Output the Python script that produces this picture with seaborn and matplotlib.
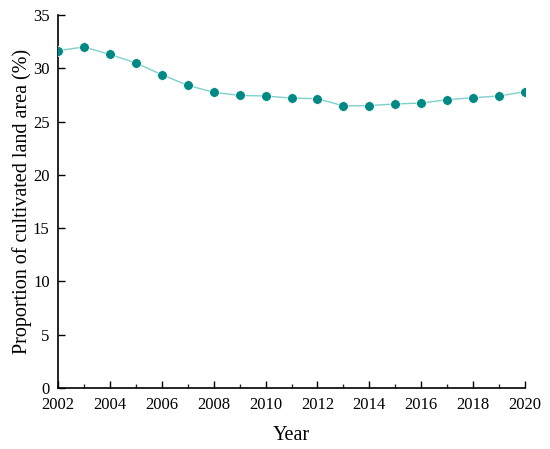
import matplotlib
matplotlib.use("Agg")
import matplotlib.pyplot as plt
import seaborn as sns
import pandas as pd
from matplotlib.ticker import MultipleLocator

years = [2002, 2003, 2004, 2005, 2006, 2007, 2008, 2009, 2010, 2011,
         2012, 2013, 2014, 2015, 2016, 2017, 2018, 2019, 2020]
proportion = [31.65, 32.0, 31.3, 30.5, 29.4, 28.4, 27.75, 27.45, 27.4, 27.2,
              27.15, 26.47, 26.5, 26.65, 26.74, 27.05, 27.24, 27.4, 27.8]

sns.set_theme(style="ticks")
plt.rcParams['font.family'] = ['Liberation Serif', 'DejaVu Serif']

df = pd.DataFrame({"Year": years, "Proportion": proportion})

fig = plt.figure(figsize=(5.5, 4.49), dpi=100)
ax = fig.add_axes([0.1055, 0.1359, 0.849, 0.8307])

sns.lineplot(data=df, x="Year", y="Proportion", ax=ax, color="#7fcfcb",
             linewidth=1.0, zorder=2)
ax.plot(df["Year"], df["Proportion"], linestyle="none", marker="o",
        markersize=7.0, markerfacecolor="#008884", markeredgecolor="white",
        markeredgewidth=0.5, zorder=3)

ax.set_xlim(2002, 2020)
ax.set_ylim(0, 35)
ax.xaxis.set_major_locator(MultipleLocator(2))
ax.xaxis.set_minor_locator(MultipleLocator(1))
ax.yaxis.set_major_locator(MultipleLocator(5))
ax.tick_params(axis="both", which="major", direction="in", length=5, width=1,
               labelsize=12, color="black", labelcolor="black")
ax.tick_params(axis="x", which="major", pad=6.5)
ax.tick_params(axis="y", which="major", pad=6)
ax.tick_params(axis="x", which="minor", direction="in", length=3, width=1)
for s in ["top", "right"]:
    ax.spines[s].set_visible(False)
for s in ["left", "bottom"]:
    ax.spines[s].set_color("black")
    ax.spines[s].set_linewidth(1.2)

ax.set_xlabel("Year", fontsize=14.5, color="black", labelpad=9)
ax.set_ylabel("Proportion of cultivated land area (%)", fontsize=14.5,
              color="black", labelpad=1)

fig.savefig("out.png", dpi=100)
